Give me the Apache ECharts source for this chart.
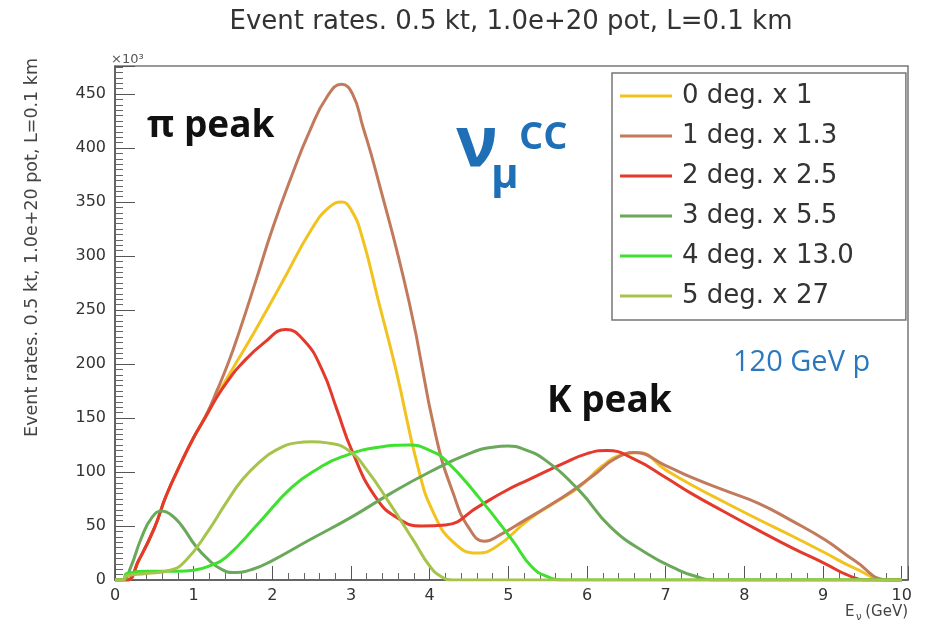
<!DOCTYPE html>
<html>
<head>
<meta charset="utf-8">
<script src="https://cdn.jsdelivr.net/npm/echarts@6/dist/echarts.min.js"></script>
<style>
  html, body { margin: 0; background: #fff; }
  #chart { width: 932px; height: 624px; }
</style>
</head>
<body>
<div id="chart"></div>
<script>
// series names as in the legend
const names = ["0 deg. x 1", "1 deg. x 1.3", "2 deg. x 2.5", "3 deg. x 5.5", "4 deg. x 13.0", "5 deg. x 27"];
const colors = ["#f2c21e", "#c27a5c", "#e5392b", "#6aa85a", "#3fe02f", "#a6c44c"];

// [E (GeV), rate (x10^3)]
const deg0 = [[0,0],[0.15,0],[0.3,18],[0.5,48],[0.65,78],[0.85,110],[1.0,132],[1.16,152],[1.3,171],[1.45,190],[1.58,206],[1.79,232],[2.12,275],[2.5,325],[2.72,345],[2.88,350],[3.0,343],[3.14,318],[3.35,258],[3.57,195],[3.86,102],[4.05,62],[4.3,35],[4.6,25],[4.85,31],[5.26,56],[5.6,72],[5.9,86],[6.2,106],[6.45,116],[6.65,118],[7.0,102],[7.33,88],[7.75,72],[8.18,56],[8.6,41],[9.03,25],[9.4,11],[9.83,0],[10,0]];
const deg1 = [[0,0],[0.15,0],[0.3,18],[0.5,48],[0.65,78],[0.85,110],[1.0,132],[1.16,153],[1.3,176],[1.45,203],[1.58,230],[1.79,277],[2.0,325],[2.25,375],[2.47,415],[2.7,448],[2.88,459],[3.02,450],[3.15,420],[3.31,380],[3.74,257],[4.08,133],[4.3,80],[4.5,48],[4.7,36],[4.9,42],[5.2,55],[5.5,68],[5.8,82],[6.1,98],[6.35,112],[6.6,118],[7.0,106],[7.33,95],[7.75,83],[8.18,71],[8.6,55],[9.03,37],[9.4,18],[9.83,0],[10,0]];
const deg2 = [[0,0],[0.15,0],[0.3,18],[0.5,48],[0.65,78],[0.85,110],[1.0,132],[1.16,152],[1.3,170],[1.45,186],[1.58,198],[1.9,220],[2.17,232],[2.4,222],[2.63,195],[2.82,158],[3.01,120],[3.31,77],[3.6,57],[3.9,50],[4.2,51],[4.62,68],[4.95,82],[5.26,93],[5.7,108],[6.0,117],[6.25,120],[6.6,112],[7.0,95],[7.33,80],[7.75,63],[8.18,46],[8.6,30],[9.03,15],[9.3,5],[9.54,0],[10,0]];
const deg3 = [[0,0],[0.1,0],[0.2,12],[0.33,38],[0.47,58],[0.6,64],[0.72,60],[0.85,50],[1.03,31],[1.2,18],[1.35,10],[1.5,7],[1.75,10],[2.0,18],[2.47,37],[3.0,58],[3.5,80],[4.0,100],[4.5,117],[4.8,123],[5.0,124],[5.2,121],[5.47,111],[5.9,83],[6.3,49],[6.75,25],[7.17,9],[7.4,3],[7.6,0],[8.0,0],[10,0]];
const deg4 = [[0,0],[0.1,0],[0.15,6],[0.4,8],[0.8,8],[1.0,9],[1.2,13],[1.41,21],[1.83,53],[2.25,86],[2.6,104],[2.88,114],[3.35,123],[3.75,125],[4.0,120],[4.2,111],[4.62,77],[5.05,37],[5.3,12],[5.5,3],[5.7,0],[6.0,0],[10,0]];
const deg5 = [[0,0],[0.1,0],[0.15,4],[0.4,6],[0.7,9],[0.9,18],[1.19,46],[1.4,70],[1.62,93],[1.85,110],[2.04,120],[2.3,127],[2.5,128],[2.7,127],[2.97,120],[3.2,102],[3.5,70],[3.8,36],[4.0,13],[4.15,3],[4.3,0],[4.6,0],[10,0]];

const allData = [deg0, deg1, deg2, deg3, deg4, deg5];

const titleText = "Event rates. 0.5 kt, 1.0e+20 pot, L=0.1 km";
const yName = "Event rates. 0.5 kt, 1.0e+20 pot, L=0.1 km";

const rootFont = "DejaVu Sans";
const noteFont = "Open Sans";

let myChart = echarts.init(document.getElementById("chart"));

const option = {
  animation: false,
  backgroundColor: "#fff",
  grid: {
    left: 115,
    right: 24,
    top: 66,
    bottom: 44,
    show: true,
    borderColor: "#777",
    borderWidth: 1.5,
  },
  legend: {
    orient: "vertical",
    left: 612,
    top: 73,
    padding: [10, 52, 11, 8],
    itemGap: 14,
    itemWidth: 52,
    itemHeight: 3,
    icon: "rect",
    backgroundColor: "#fff",
    borderColor: "#777",
    borderWidth: 1.5,
    data: names,
    textStyle: {
      fontFamily: rootFont,
      fontSize: 26,
      color: "#333",
      padding: [0, 0, 0, 5],
    },
  },
  xAxis: {
    type: "value",
    min: 0,
    max: 10.08,
    interval: 1,
    axisLine: { lineStyle: { color: "#555", width: 1.5 } },
    axisTick: { inside: true, length: 14, lineStyle: { color: "#555" } },
    minorTick: { show: true, splitNumber: 5, length: 7, lineStyle: { color: "#666" } },
    splitLine: { show: false },
    axisLabel: {
      showMaxLabel: false,
      margin: 8,
      color: "#333",
      fontFamily: rootFont,
      fontSize: 16,
    },
  },
  yAxis: {
    type: "value",
    min: 0,
    max: 476,
    interval: 50,
    axisLine: { show: true, lineStyle: { color: "#555", width: 1.5 } },
    axisTick: { show: true, inside: true, length: 20, lineStyle: { color: "#555" } },
    minorTick: { show: true, splitNumber: 10, length: 8, lineStyle: { color: "#666" } },
    splitLine: { show: false },
    axisLabel: {
      showMaxLabel: false,
      margin: 9,
      color: "#333",
      fontFamily: rootFont,
      fontSize: 16,
    },
  },
  graphic: [
    {
      type: "text", x: 511, y: 22,
      style: { text: titleText, align: "center", verticalAlign: "middle", fontFamily: rootFont, fontSize: 26, fill: "#333" },
    },
    {
      type: "text", x: 32, y: 58, rotation: Math.PI / 2,
      style: { text: yName, align: "right", verticalAlign: "middle", fontFamily: rootFont, fontSize: 17.5, fill: "#444" },
    },
    {
      type: "text", x: 111, y: 60,
      style: { text: "×10³", align: "left", verticalAlign: "middle", fontFamily: rootFont, fontSize: 13, fill: "#555" },
    },
    {
      type: "text", x: 845, y: 612,
      style: { text: "E", align: "left", verticalAlign: "middle", fontFamily: rootFont, fontSize: 15, fill: "#444" },
    },
    {
      type: "text", x: 856, y: 617,
      style: { text: "ν", align: "left", verticalAlign: "middle", fontFamily: rootFont, fontSize: 10, fill: "#444" },
    },
    {
      type: "text", x: 908, y: 612,
      style: { text: "(GeV)", align: "right", verticalAlign: "middle", fontFamily: rootFont, fontSize: 15, fill: "#444" },
    },
    {
      type: "text", x: 147, y: 126,
      style: { text: "π peak", align: "left", verticalAlign: "middle", fontFamily: noteFont, fontWeight: "bold", fontSize: 37, fill: "#111" },
    },
    {
      type: "text", x: 547, y: 401,
      style: { text: "K peak", align: "left", verticalAlign: "middle", fontFamily: noteFont, fontWeight: "bold", fontSize: 37, fill: "#111" },
    },
    {
      type: "text", x: 456, y: 146,
      style: { text: "ν", align: "left", verticalAlign: "middle", fontFamily: noteFont, fontWeight: "bold", fontSize: 70, fill: "#1e6fb5" },
    },
    {
      type: "text", x: 491, y: 176,
      style: { text: "μ", align: "left", verticalAlign: "middle", fontFamily: noteFont, fontWeight: "bold", fontSize: 42, fill: "#1e6fb5" },
    },
    {
      type: "text", x: 519, y: 138,
      style: { text: "CC", align: "left", verticalAlign: "middle", fontFamily: noteFont, fontWeight: "bold", fontSize: 38, fill: "#1e6fb5" },
    },
    {
      type: "text", x: 733, y: 363,
      style: { text: "120 GeV p", align: "left", verticalAlign: "middle", fontFamily: noteFont, fontSize: 29, fill: "#2b78be" },
    },
  ],
  series: names.map(function (name, i) {
    return {
      name: name,
      type: "line",
      smooth: 0.5,
      symbol: "none",
      color: colors[i],
      lineStyle: { color: colors[i], width: 3 },
      data: allData[i],
    };
  }),
};

myChart.setOption(option);
</script>
</body>
</html>
